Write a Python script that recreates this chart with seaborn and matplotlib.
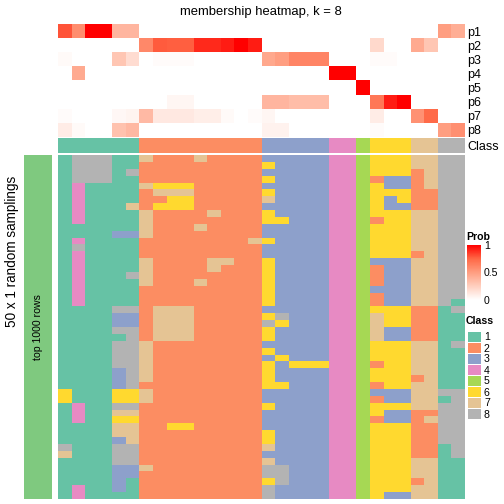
import numpy as np
import pandas as pd
import matplotlib
matplotlib.use("Agg")
import matplotlib.pyplot as plt
import seaborn as sns
from matplotlib.colors import ListedColormap, LinearSegmentedColormap

# class of each of the 30 columns
col_class = [1]*6 + [2]*9 + [3]*5 + [4]*2 + [5] + [6]*3 + [7]*2 + [8]*2

# membership probabilities (rows p1..p8, 30 columns)
p1 = [0.8, 0.58, 1, 1, 0.38, 0.38] + [0]*22 + [0.5, 0.42]
p2 = [0]*6 + [0.6, 0.78, 0.77, 0.77, 0.9, 0.9, 0.93, 1.0, 0.93] + [0]*8 + [0.2, 0, 0, 0.44, 0.3, 0, 0]
p3 = [0.03, 0, 0, 0, 0.3, 0.18, 0, 0.02, 0.02, 0.02, 0, 0, 0, 0, 0,
      0.45, 0.5, 0.62, 0.62, 0.62, 0, 0, 0, 0.02, 0.02, 0, 0, 0, 0, 0]
p4 = [0, 0.44] + [0]*18 + [1, 1] + [0]*8
p5 = [0]*22 + [1] + [0]*7
p6 = [0]*8 + [0.05, 0.05] + [0]*5 + [0.38, 0.38, 0.34, 0.34, 0.34, 0, 0, 0, 0.68, 0.93, 1.0, 0, 0, 0, 0]
p7 = [0.02, 0, 0, 0, 0.04, 0.06, 0.36, 0.12, 0.12, 0.12, 0.09, 0.09, 0.03, 0, 0.02,
      0.05, 0, 0, 0, 0, 0, 0, 0, 0.1, 0, 0, 0.56, 0.74, 0, 0]
p8 = [0.1, 0.03, 0, 0, 0.32, 0.37] + [0]*9 + [0.07, 0.07] + [0]*6 + [0.02, 0, 0, 0, 0, 0.5, 0.57]
prob_labels = ["p1", "p2", "p3", "p4", "p5", "p6", "p7", "p8"]

# class assignment in each of the 50 random samplings
samplings = [
    "188811" "722272222" "33333" "44" "5" "666" "77" "88",
    "188811" "222222222" "63333" "44" "5" "666" "77" "88",
    "188818" "222222222" "33333" "44" "5" "666" "27" "88",
    "188811" "222222222" "63333" "44" "5" "233" "27" "88",
    "141111" "766622222" "33333" "44" "5" "633" "27" "88",
    "141111" "277722222" "63333" "44" "5" "666" "22" "88",
    "141111" "226622222" "73333" "44" "5" "636" "22" "88",
    "141117" "266622222" "33333" "44" "5" "633" "22" "88",
    "141111" "722227222" "63333" "44" "5" "666" "77" "88",
    "141111" "722222222" "66333" "44" "5" "266" "77" "88",
    "111111" "722272222" "33333" "44" "5" "666" "77" "88",
    "111133" "722222222" "33333" "44" "5" "666" "77" "88",
    "141111" "222222227" "63333" "44" "5" "666" "77" "88",
    "181111" "222222222" "33333" "44" "5" "666" "77" "88",
    "141111" "222222222" "33333" "44" "5" "666" "27" "88",
    "141111" "722227722" "63333" "44" "5" "333" "77" "88",
    "141111" "722227222" "63333" "44" "5" "233" "77" "88",
    "141118" "722222222" "63333" "44" "5" "233" "77" "88",
    "141111" "722272222" "63333" "44" "5" "233" "77" "88",
    "141111" "222222222" "63333" "44" "5" "333" "77" "88",
    "141111" "222222222" "63333" "44" "5" "233" "77" "88",
    "141111" "222222222" "63333" "44" "5" "233" "77" "81",
    "111188" "277722222" "33333" "44" "5" "666" "22" "18",
    "111133" "277722222" "68333" "44" "5" "766" "22" "11",
    "111133" "277722222" "86333" "44" "5" "766" "22" "11",
    "111188" "277722222" "63333" "44" "5" "733" "22" "11",
    "111118" "277722222" "63333" "44" "5" "733" "22" "11",
    "111188" "722222222" "33333" "44" "5" "666" "77" "18",
    "111188" "722222222" "63333" "44" "5" "666" "77" "11",
    "111188" "722222222" "36333" "44" "5" "666" "77" "11",
    "111188" "722222222" "63666" "44" "5" "266" "77" "11",
    "111138" "722222222" "63333" "44" "5" "666" "77" "11",
    "111138" "722222222" "63333" "44" "5" "666" "27" "11",
    "111138" "222222222" "66333" "44" "5" "266" "77" "11",
    "611166" "722222222" "33333" "44" "5" "333" "77" "88",
    "611166" "722222222" "33333" "44" "5" "233" "77" "18",
    "141188" "222222222" "63333" "44" "5" "666" "77" "88",
    "141177" "222222222" "33333" "44" "5" "633" "22" "88",
    "141166" "222222222" "33333" "44" "5" "233" "27" "88",
    "111177" "226622222" "33333" "44" "5" "666" "22" "88",
    "111177" "222222222" "63333" "44" "5" "666" "22" "88",
    "111137" "222222222" "63333" "44" "5" "666" "22" "88",
    "811188" "222222222" "73333" "44" "5" "666" "22" "18",
    "711188" "222222222" "33333" "44" "5" "666" "22" "18",
    "111188" "222222222" "73333" "44" "5" "666" "77" "11",
    "111133" "722222222" "88333" "44" "5" "666" "77" "11",
    "111133" "222222222" "88333" "44" "5" "666" "77" "11",
    "111131" "222222222" "68333" "44" "5" "666" "27" "11",
    "141131" "222222222" "83333" "44" "5" "666" "77" "11",
    "141111" "222222222" "83333" "44" "5" "633" "77" "11",
]

class_names = ["1", "2", "3", "4", "5", "6", "7", "8"]
class_colors = ["#66C2A5", "#FC8D62", "#8DA0CB", "#E78AC3",
                "#A6D854", "#FFD92F", "#E5C494", "#B3B3B3"]

plt.rcParams['font.family'] = ['Liberation Sans', 'DejaVu Sans']

W = H = 504
fig = plt.figure(figsize=(7, 7), dpi=72)


def box(l, t, r, b):
    # pixel box -> figure fraction
    return [l / W, 1 - b / H, (r - l) / W, (b - t) / H]


class_cmap = ListedColormap(class_colors)
prob_cmap = LinearSegmentedColormap.from_list(
    "prob", [(0, "#FFFFFF"), (0.25, "#FFCFBF"), (0.5, "#FF9E81"), (0.75, "#FF6846"), (1, "#FF0000")])

prob = pd.DataFrame([p1, p2, p3, p4, p5, p6, p7, p8], index=prob_labels)
mat = pd.DataFrame([[int(c) for c in s] for s in samplings])

# membership probabilities
ax_p = fig.add_axes(box(58, 24, 465, 137))
ax_cb = fig.add_axes(box(467, 245, 481, 300))
sns.heatmap(prob, ax=ax_p, cmap=prob_cmap, vmin=0, vmax=1, xticklabels=False,
            yticklabels=True, cbar_ax=ax_cb)
ax_p.yaxis.tick_right()
ax_p.tick_params(axis="y", length=0, pad=2, labelsize=12.5, rotation=0)
ax_p.set_xlabel("")
ax_cb.set_yticks([0, 0.5, 1])
ax_cb.set_yticklabels(["0", "0.5", "1"])
ax_cb.tick_params(length=0, labelsize=10.5, pad=3)
ax_cb.set_title("Prob", fontsize=10.5, fontweight="bold", loc="left", pad=5, x=-0.05)

# class annotation
ax_c = fig.add_axes(box(58, 138, 465, 153))
sns.heatmap(pd.DataFrame([col_class], index=["Class"]), ax=ax_c, cmap=class_cmap,
            vmin=0.5, vmax=8.5, cbar=False, xticklabels=False, yticklabels=True)
ax_c.yaxis.tick_right()
ax_c.tick_params(axis="y", length=0, pad=2, labelsize=12.5, rotation=0)

# random samplings
ax_m = fig.add_axes(box(58, 155, 465, 499))
sns.heatmap(mat, ax=ax_m, cmap=class_cmap, vmin=0.5, vmax=8.5, cbar=False,
            xticklabels=False, yticklabels=False)

# left annotation bar
ax_g = fig.add_axes(box(24, 155, 52, 499))
ax_g.set_facecolor("#7FC97F")
ax_g.set_xticks([])
ax_g.set_yticks([])
for s in ax_g.spines.values():
    s.set_visible(False)
ax_g.text(0.5, 0.5, "top 1000 rows", rotation=90, ha="center", va="center",
          fontsize=10.5, transform=ax_g.transAxes)

fig.text(12 / W, 1 - 251 / H, "50 x 1 random samplings", rotation=90,
         ha="center", va="center", fontsize=13.5)
fig.text(261 / W, 1 - 12 / H, "membership heatmap, k = 8", ha="center",
         va="center", fontsize=13)

# class legend
ax_l = fig.add_axes(box(467, 331, 481, 419))
sns.heatmap(pd.DataFrame({"k": range(1, 9)}, index=class_names), ax=ax_l,
            cmap=class_cmap, vmin=0.5, vmax=8.5, cbar=False, linewidths=1,
            linecolor="white", xticklabels=False, yticklabels=True)
ax_l.yaxis.tick_right()
ax_l.tick_params(axis="y", length=0, pad=3, labelsize=10.5, rotation=0)
ax_l.set_ylabel("")
fig.text(466 / W, 1 - 321 / H, "Class", fontsize=10.5, fontweight="bold",
         ha="left", va="center")

fig.savefig("out.png", dpi=72)
